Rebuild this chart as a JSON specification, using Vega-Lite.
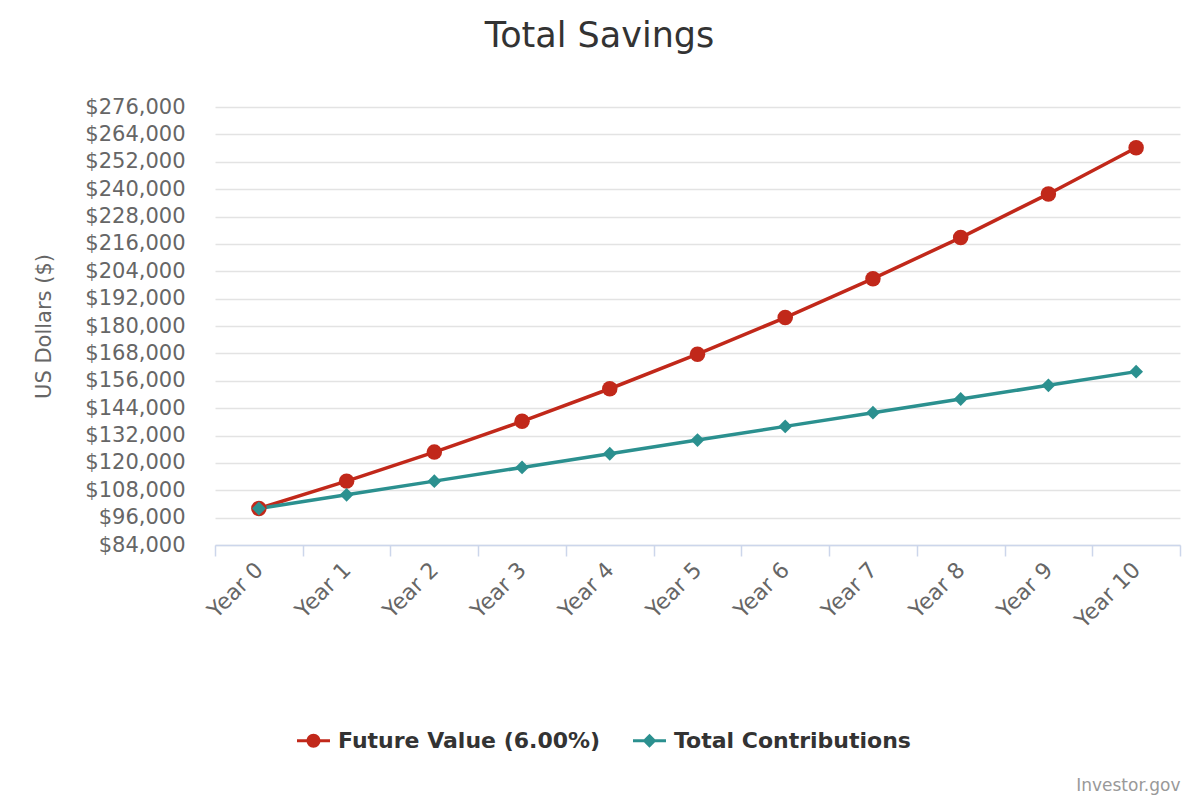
{
  "$schema": "https://vega.github.io/schema/vega-lite/v6.json",
  "width": 965,
  "height": 438,
  "autosize": {"type": "none"},
  "padding": {"left": 215, "top": 107, "right": 20, "bottom": 255},
  "background": "#ffffff",
  "config": {
    "font": "DejaVu Sans",
    "view": {"stroke": null}
  },
  "title": {
    "text": "Total Savings",
    "font": "DejaVu Sans",
    "fontSize": 35,
    "fontWeight": "normal",
    "color": "#333333",
    "anchor": "middle",
    "offset": 42,
    "dx": -98
  },
  "data": {
    "values": [
      {"year": "Year 0", "series": "Future Value (6.00%)", "value": 100000},
      {"year": "Year 1", "series": "Future Value (6.00%)", "value": 112000},
      {"year": "Year 2", "series": "Future Value (6.00%)", "value": 124720},
      {"year": "Year 3", "series": "Future Value (6.00%)", "value": 138203},
      {"year": "Year 4", "series": "Future Value (6.00%)", "value": 152495},
      {"year": "Year 5", "series": "Future Value (6.00%)", "value": 167645},
      {"year": "Year 6", "series": "Future Value (6.00%)", "value": 183704},
      {"year": "Year 7", "series": "Future Value (6.00%)", "value": 200726},
      {"year": "Year 8", "series": "Future Value (6.00%)", "value": 218770},
      {"year": "Year 9", "series": "Future Value (6.00%)", "value": 237896},
      {"year": "Year 10", "series": "Future Value (6.00%)", "value": 258170},
      {"year": "Year 0", "series": "Total Contributions", "value": 100000},
      {"year": "Year 1", "series": "Total Contributions", "value": 106000},
      {"year": "Year 2", "series": "Total Contributions", "value": 112000},
      {"year": "Year 3", "series": "Total Contributions", "value": 118000},
      {"year": "Year 4", "series": "Total Contributions", "value": 124000},
      {"year": "Year 5", "series": "Total Contributions", "value": 130000},
      {"year": "Year 6", "series": "Total Contributions", "value": 136000},
      {"year": "Year 7", "series": "Total Contributions", "value": 142000},
      {"year": "Year 8", "series": "Total Contributions", "value": 148000},
      {"year": "Year 9", "series": "Total Contributions", "value": 154000},
      {"year": "Year 10", "series": "Total Contributions", "value": 160000}
    ]
  },
  "encoding": {
    "x": {
      "field": "year",
      "type": "ordinal",
      "sort": null,
      "scale": {"type": "band", "paddingInner": 0, "paddingOuter": 0},
      "axis": {
        "title": "Investor.gov",
        "titleFont": "DejaVu Sans",
        "titleFontSize": 17,
        "titleFontWeight": "normal",
        "titleColor": "#999999",
        "titleAnchor": "end",
        "titleAlign": "right",
        "titlePadding": 146,
        "labelAngle": -45,
        "labelAlign": "right",
        "labelBaseline": "middle",
        "labelFontSize": 22,
        "labelColor": "#666666",
        "labelPadding": 10,
        "tickBand": "extent",
        "tickSize": 11,
        "tickColor": "#ccd6eb",
        "tickWidth": 1.5,
        "domainColor": "#ccd6eb",
        "domainWidth": 1.5,
        "grid": false
      }
    },
    "y": {
      "field": "value",
      "type": "quantitative",
      "scale": {"domain": [84000, 276000], "nice": false, "zero": false},
      "axis": {
        "title": "US Dollars ($)",
        "titleFont": "DejaVu Sans",
        "titleFontSize": 21,
        "titleFontWeight": "normal",
        "titleColor": "#666666",
        "titlePadding": 30,
        "values": [84000, 96000, 108000, 120000, 132000, 144000, 156000, 168000, 180000, 192000, 204000, 216000, 228000, 240000, 252000, 264000, 276000],
        "format": "$,.0f",
        "labelFontSize": 21,
        "labelColor": "#666666",
        "labelPadding": 30,
        "ticks": false,
        "tickSize": 0,
        "domain": false,
        "grid": true,
        "gridColor": "#e3e3e3",
        "gridWidth": 1.5
      }
    },
    "color": {
      "field": "series",
      "type": "nominal",
      "scale": {
        "domain": ["Future Value (6.00%)", "Total Contributions"],
        "range": ["#c1281a", "#2b908f"]
      },
      "legend": {
        "orient": "none",
        "legendX": 82,
        "legendY": 617,
        "direction": "horizontal",
        "title": null,
        "labelFont": "DejaVu Sans",
        "labelFontSize": 22,
        "labelFontWeight": "bold",
        "labelColor": "#333333",
        "labelLimit": 500,
        "labelOffset": 8,
        "columnPadding": 32,
        "symbolSize": 1089,
        "symbolStrokeWidth": 0,
        "encode": {
          "symbols": {
            "update": {
              "shape": {"signal": "datum.value === 'Future Value (6.00%)' ? 'M-1,-0.09H1V0.09H-1Z M0.42,0A0.42,0.42 0 1,1 -0.42,0A0.42,0.42 0 1,1 0.42,0Z' : 'M-1,-0.09H1V0.09H-1Z M0,-0.42L0.42,0L0,0.42L-0.42,0Z'"},
              "size": {"value": 1089},
              "fill": {"scale": "color", "field": "value"},
              "fillOpacity": {"value": 1},
              "strokeWidth": {"value": 0}
            }
          }
        }
      }
    }
  },
  "layer": [
    {
      "mark": {"type": "line", "strokeWidth": 3.5}
    },
    {
      "transform": [{"filter": "datum.series === 'Future Value (6.00%)'"}],
      "mark": {"type": "point", "shape": "circle", "size": 240, "filled": true, "opacity": 1, "strokeWidth": 0}
    },
    {
      "transform": [{"filter": "datum.series === 'Total Contributions'"}],
      "mark": {"type": "point", "shape": "diamond", "size": 190, "filled": true, "opacity": 1, "strokeWidth": 0}
    }
  ]
}
